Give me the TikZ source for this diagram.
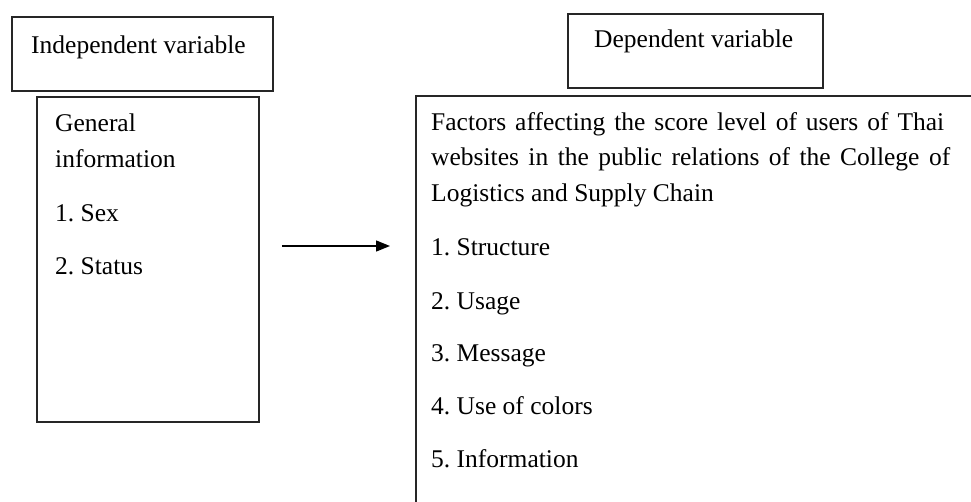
\documentclass[tikz,border=0pt]{standalone}
\usepackage{fontspec}
\setmainfont{Liberation Serif}
\usetikzlibrary{arrows.meta}
\begin{document}
\frenchspacing
\begin{tikzpicture}[x=1pt,y=-1pt,
  box/.style={draw=black!85, line width=1.8pt, inner sep=0pt, anchor=north west},
  txt/.style={anchor=base west, inner sep=0pt, font=\fontsize{25.5}{30}\selectfont\frenchspacing},
  link/.style={line width=1.4pt, -{Triangle[length=14pt,width=11pt]}}]
\useasboundingbox (0,0) rectangle (971,501);
\clip (0,0) rectangle (971,501);
% boxes
\node[box, minimum width=261pt, minimum height=74pt] (indep) at (11,16) {};
\node[box, minimum width=222pt, minimum height=325pt] (gen) at (36,96) {};
\node[box, minimum width=255pt, minimum height=74pt] (dephead) at (567,13) {};
\node[box, minimum width=600pt, minimum height=440pt] (dep) at (415,95) {};
% texts
\node[txt] (tindep) at (31,53) {Independent variable};
\node[txt] (tdephead) at (594,47) {Dependent variable};
\node[txt] (g1) at (55,131) {General};
\node[txt] (g2) at (55,167) {information};
\node[txt] (g3) at (55,221) {1. Sex};
\node[txt] (g4) at (55,274) {2. Status};
\node[txt] (d1) at (431,130) {\makebox[513pt][s]{Factors affecting the score level of users of Thai}};
\node[txt] (d2) at (431,165.5) {\makebox[519pt][s]{websites in the public relations of the College of}};
\node[txt] (d3) at (431,201) {Logistics and Supply Chain};
\node[txt] (d4) at (431,255) {1. Structure};
\node[txt] (d5) at (431,309) {2. Usage};
\node[txt] (d6) at (431,361) {3. Message};
\node[txt] (d7) at (431,414) {4. Use of colors};
\node[txt] (d8) at (431,467) {5. Information};
% connector
\coordinate (arrowrow) at (0,246);
\draw[link, shorten <=22pt, shorten >=25pt] (gen.east |- arrowrow) -- (dep.west |- arrowrow);
\end{tikzpicture}
\end{document}
